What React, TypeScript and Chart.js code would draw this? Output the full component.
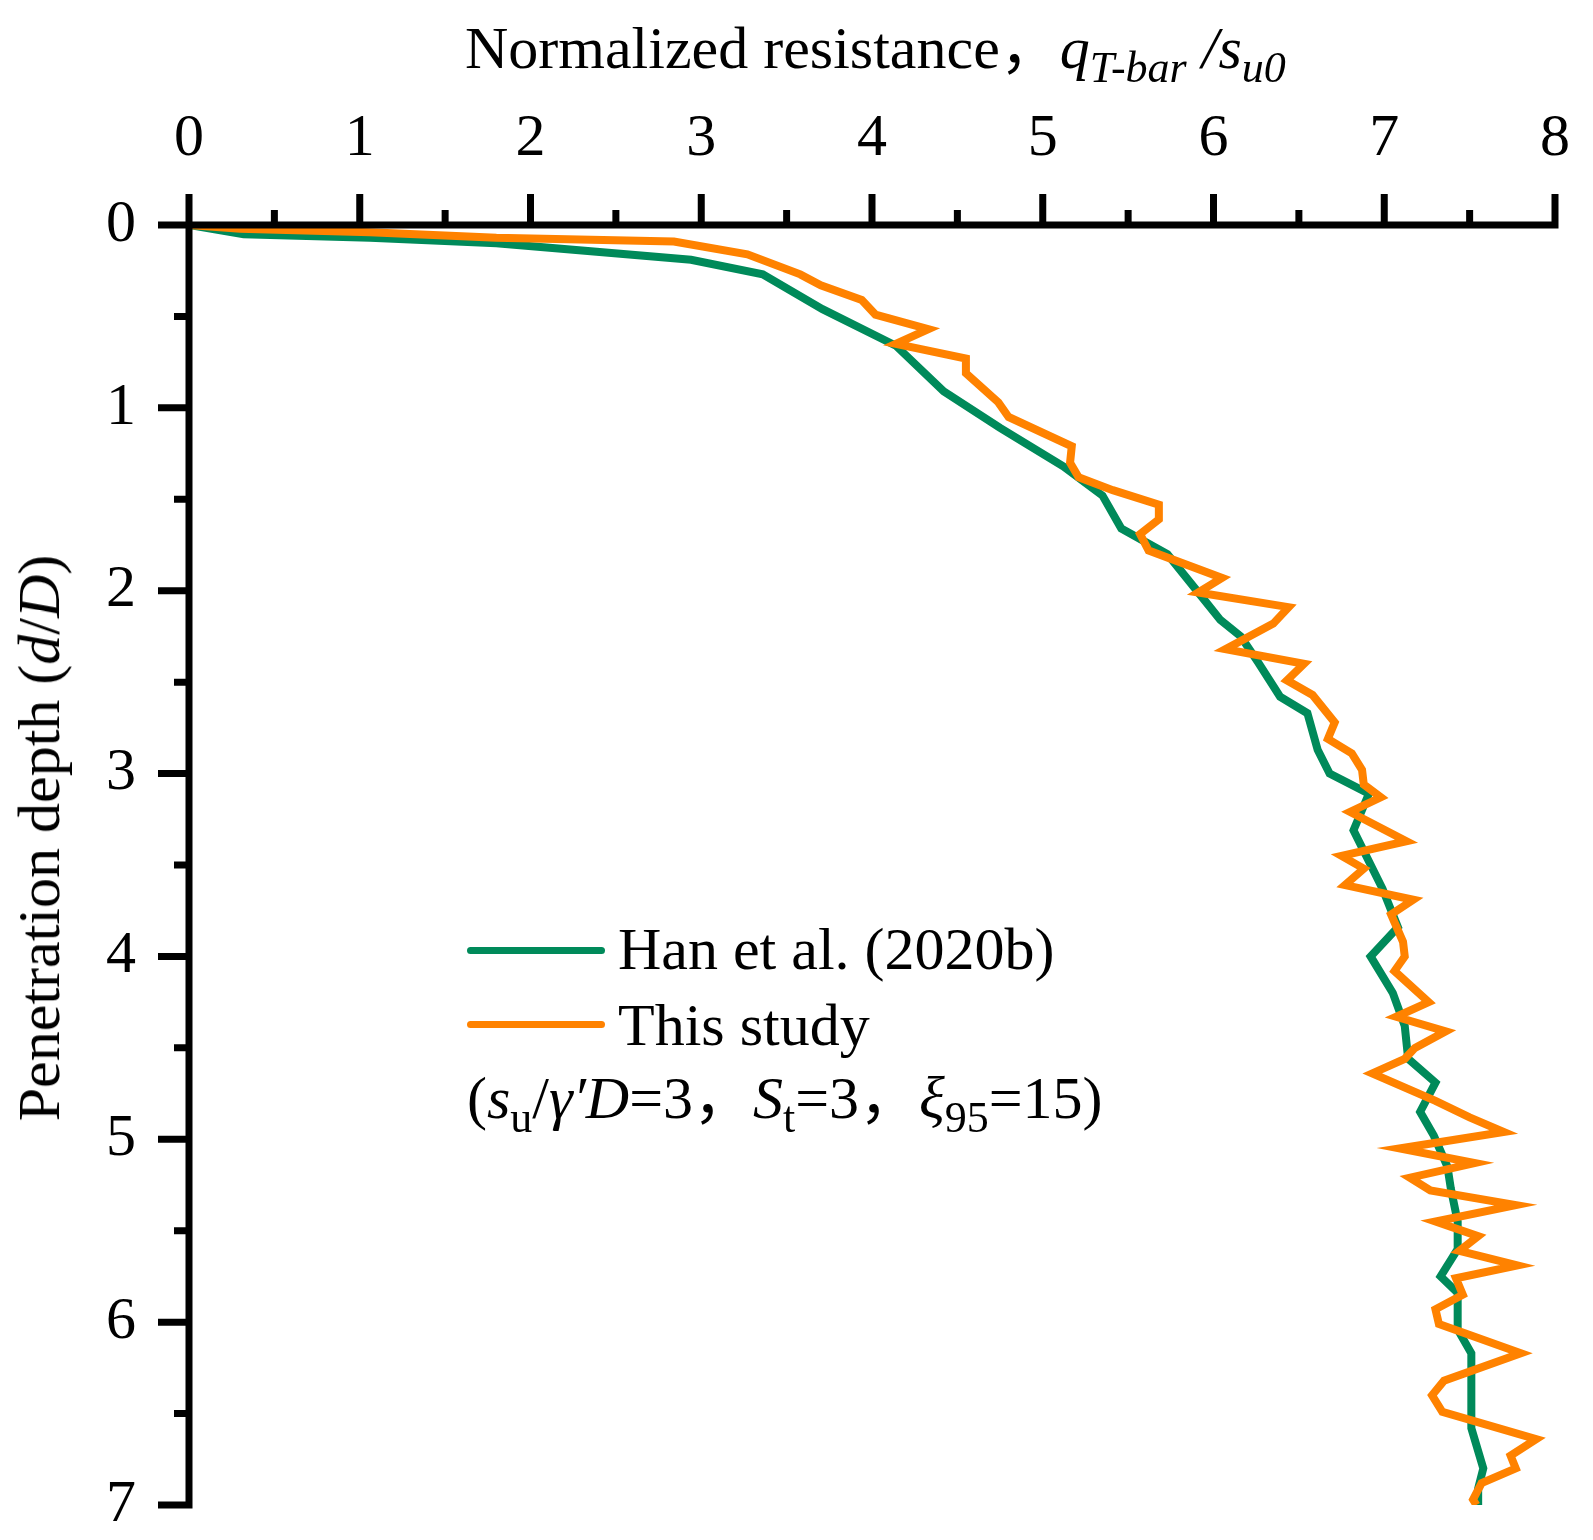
import { useEffect, useRef } from 'react';
import { Chart, registerables } from 'chart.js';

Chart.register(...registerables);

// Han et al. (2020b): normalized resistance vs. penetration depth
const hanResistance = [
  0, 0.32, 1.06, 1.8, 2.94, 3.36, 3.71, 4.14, 4.42, 4.75, 5.12, 5.35, 5.46, 5.73, 5.92, 6.04,
  6.16, 6.26, 6.39, 6.55, 6.61, 6.68, 6.91, 6.82, 6.99, 7.08, 6.92, 7.05, 7.12, 7.14, 7.3, 7.21,
  7.29, 7.37, 7.39, 7.43, 7.43, 7.33, 7.43, 7.43, 7.51, 7.51, 7.58, 7.55, 7.55,
];
const hanDepth = [
  0, 0.05, 0.07, 0.1, 0.19, 0.27, 0.46, 0.66, 0.91, 1.11, 1.32, 1.48, 1.66, 1.8, 2.02, 2.16,
  2.25, 2.39, 2.58, 2.67, 2.87, 3.0, 3.11, 3.31, 3.63, 3.84, 4.0, 4.2, 4.38, 4.56, 4.69, 4.85,
  4.98, 5.15, 5.27, 5.45, 5.6, 5.75, 5.84, 6.04, 6.17, 6.58, 6.8, 6.91, 7.0,
];

// This study
const studyResistance = [
  0, 0.3, 1.06, 1.8, 2.84, 3.27, 3.58, 3.7, 3.94, 4.02, 4.33, 4.14, 4.55, 4.55, 4.74, 4.8,
  5.17, 5.16, 5.21, 5.41, 5.68, 5.68, 5.57, 5.62, 6.05, 5.91, 6.44, 6.35, 6.07, 6.53, 6.43, 6.58,
  6.71, 6.67, 6.81, 6.87, 6.88, 6.98, 6.8, 7.13, 6.75, 6.88, 6.77, 7.17, 7.04, 7.11, 7.12, 7.06,
  7.26, 7.07, 7.36, 7.18, 7.12, 6.93, 7.3, 7.5, 7.7, 7.09, 7.53, 7.15, 7.27, 7.77, 7.3, 7.55,
  7.44, 7.78, 7.42, 7.46, 7.3, 7.32, 7.8, 7.35, 7.28, 7.34, 7.89, 7.74, 7.77, 7.57, 7.52, 7.54,
];
const studyDepth = [
  0, 0.02, 0.04, 0.07, 0.09, 0.16, 0.27, 0.33, 0.41, 0.49, 0.57, 0.65, 0.73, 0.81, 0.97, 1.05,
  1.21, 1.3, 1.38, 1.45, 1.53, 1.61, 1.69, 1.78, 1.93, 2.01, 2.09, 2.18, 2.32, 2.4, 2.49, 2.57,
  2.72, 2.81, 2.89, 2.98, 3.06, 3.13, 3.21, 3.37, 3.45, 3.52, 3.61, 3.69, 3.77, 3.92, 4.0, 4.08,
  4.25, 4.33, 4.41, 4.5, 4.56, 4.64, 4.79, 4.88, 4.96, 5.05, 5.13, 5.21, 5.28, 5.36, 5.45, 5.53,
  5.61, 5.69, 5.76, 5.85, 5.93, 6.01, 6.17, 6.32, 6.4, 6.49, 6.64, 6.73, 6.8, 6.88, 6.97, 7.0,
];

const X_MIN = 0;
const X_MAX = 8;
const Y_MIN = 0;
const Y_MAX = 7;
const MINOR_STEP = 0.5;

const GREEN = '#008A5A';
const ORANGE = '#FF8200';
const SERIF = '"Liberation Serif", "Times New Roman", "Noto Sans CJK SC", serif';

const W = 1593;
const H = 1540;

function points(xs: number[], ys: number[]) {
  return xs.map((x, i) => ({ x, y: ys[i] }));
}

// draws the thick black axes with long (major) and short (minor) outward ticks
const axisFrame = {
  id: 'axisFrame',
  afterDatasetsDraw(chart: any) {
    const { ctx, scales } = chart;
    const xs = scales.x;
    const ys = scales.y;
    const x0 = xs.getPixelForValue(X_MIN);
    const y0 = ys.getPixelForValue(Y_MIN);
    const major = 31;
    const minor = 15;
    ctx.save();
    ctx.strokeStyle = '#000';
    ctx.lineWidth = 7;
    ctx.lineCap = 'butt';
    ctx.beginPath();
    ctx.moveTo(x0 - major, y0);
    ctx.lineTo(xs.getPixelForValue(X_MAX) + 3.5, y0);
    ctx.moveTo(x0, y0 - major);
    ctx.lineTo(x0, ys.getPixelForValue(Y_MAX) + 3.5);
    for (let v = X_MIN; v <= X_MAX + 1e-9; v += MINOR_STEP) {
      const px = xs.getPixelForValue(v);
      const len = Number.isInteger(v) ? major : minor;
      ctx.moveTo(px, y0);
      ctx.lineTo(px, y0 - len);
    }
    for (let v = Y_MIN; v <= Y_MAX + 1e-9; v += MINOR_STEP) {
      const py = ys.getPixelForValue(v);
      const len = Number.isInteger(v) ? major : minor;
      ctx.moveTo(x0, py);
      ctx.lineTo(x0 - len, py);
    }
    ctx.stroke();
    ctx.restore();
  },
};

const sub: React.CSSProperties = { fontSize: 44, position: 'relative', top: 14 };

export default function App() {
  const canvasRef = useRef<HTMLCanvasElement | null>(null);
  const chartRef = useRef<Chart | null>(null);

  useEffect(() => {
    const ctx = canvasRef.current?.getContext('2d');
    if (!ctx) return;
    if (chartRef.current) chartRef.current.destroy();

    const tickFont = { family: SERIF, size: 60 };

    chartRef.current = new Chart(ctx, {
      type: 'scatter',
      data: {
        datasets: [
          {
            label: 'Han et al. (2020b)',
            data: points(hanResistance, hanDepth),
            showLine: true,
            borderColor: GREEN,
            backgroundColor: GREEN,
            borderWidth: 8,
            pointRadius: 0,
            tension: 0,
            order: 1,
          },
          {
            label: 'This study',
            data: points(studyResistance, studyDepth),
            showLine: true,
            borderColor: ORANGE,
            backgroundColor: ORANGE,
            borderWidth: 8,
            pointRadius: 0,
            tension: 0,
            order: 0,
          },
        ],
      },
      options: {
        responsive: false,
        animation: false,
        layout: { padding: { left: 0, top: 0, right: 38, bottom: 35 } },
        plugins: {
          legend: { display: false },
          tooltip: { enabled: false },
        },
        scales: {
          x: {
            type: 'linear',
            position: 'top',
            min: X_MIN,
            max: X_MAX,
            grid: { display: false, drawTicks: false },
            border: { display: false },
            ticks: { stepSize: 1, font: tickFont, color: '#000', padding: 50 },
            afterFit: (s: any) => {
              s.height = 225;
              s.paddingLeft = 0;
              s.paddingRight = 0;
            },
          },
          y: {
            type: 'linear',
            reverse: true,
            min: Y_MIN,
            max: Y_MAX,
            grid: { display: false, drawTicks: false },
            border: { display: false },
            ticks: { stepSize: 1, font: tickFont, color: '#000', padding: 53 },
            afterFit: (s: any) => {
              s.width = 189;
              s.paddingTop = 0;
              s.paddingBottom = 0;
            },
          },
        },
      },
      plugins: [axisFrame],
    });

    return () => {
      if (chartRef.current) chartRef.current.destroy();
      chartRef.current = null;
    };
  }, []);

  const text: React.CSSProperties = {
    position: 'absolute',
    fontFamily: SERIF,
    fontSize: 60,
    lineHeight: '60px',
    color: '#000',
    whiteSpace: 'nowrap',
  };

  return (
    <div style={{ position: 'absolute', left: 0, top: 0, width: W, height: H, background: '#fff' }}>
      <canvas ref={canvasRef} width={W} height={H} style={{ position: 'absolute', left: 0, top: 0 }} />

      <div style={{ ...text, left: 465, top: 18 }}>
        Normalized resistance，<i>q</i>
        <i style={sub}>T-bar</i>
        <i> /s</i>
        <i style={sub}>u0</i>
      </div>

      <div
        style={{
          ...text,
          left: 39,
          top: 838,
          transform: 'translate(-50%, -50%) rotate(-90deg)',
        }}
      >
        Penetration depth (<i>d</i>/<i>D</i>)
      </div>

      <div style={{ position: 'absolute', left: 467, top: 947, width: 138, height: 7, borderRadius: 4, background: GREEN }} />
      <div style={{ ...text, left: 618, top: 919 }}>Han et al. (2020b)</div>

      <div style={{ position: 'absolute', left: 467, top: 1021, width: 138, height: 7, borderRadius: 4, background: ORANGE }} />
      <div style={{ ...text, left: 618, top: 995 }}>This study</div>

      <div style={{ ...text, left: 467, top: 1068 }}>
        (<i>s</i>
        <span style={sub}>u</span>/<i>γ′D</i>=3，<i>S</i>
        <span style={sub}>t</span>=3，<i>ξ</i>
        <span style={sub}>95</span>=15)
      </div>
    </div>
  );
}
